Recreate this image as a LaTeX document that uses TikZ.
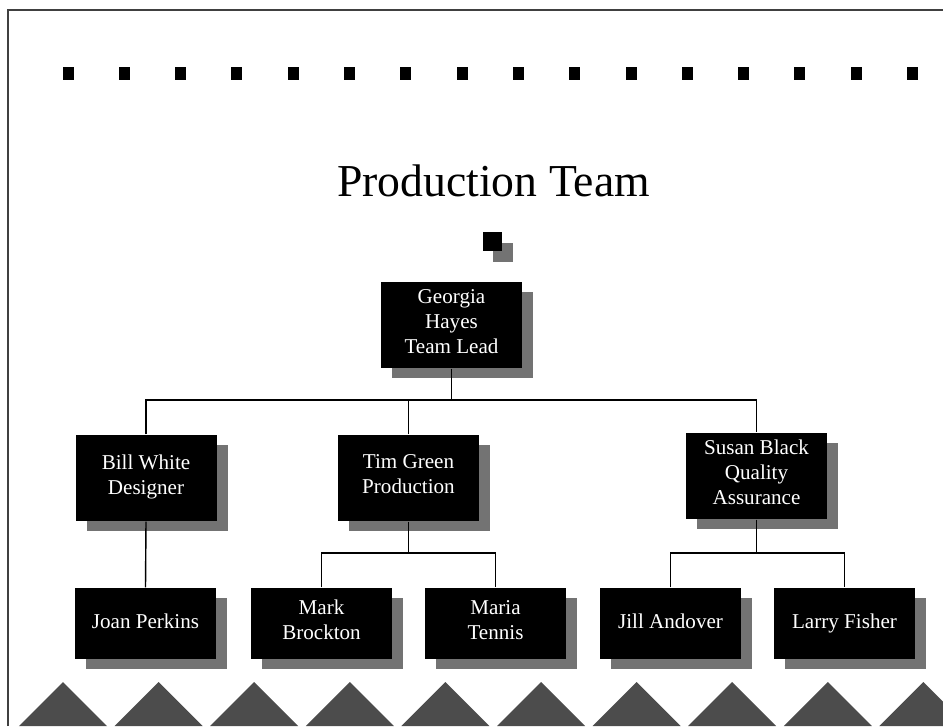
\documentclass[tikz,border=0pt]{standalone}
\usepackage{fontspec}
\setmainfont{Liberation Serif}
\usetikzlibrary{shadows}

\begin{document}
\begin{tikzpicture}[line width=0.8pt, every node/.style={font=\fontsize{12}{14.2}\selectfont}]
			\tikzstyle{member} = [fill=black, text=white, align=center, inner sep=0pt,
				minimum width=2.82cm, minimum height=1.72cm,
				execute at begin node=\strut, execute at end node=\strut,
				drop shadow={shadow xshift=0.22cm, shadow yshift=-0.2cm, fill=black!55, opacity=1}]
			\tikzstyle{staff} = [member, minimum height=1.42cm]
			\tikzstyle{link} = [draw=black, line width=0.8pt]
			
			\useasboundingbox (0,0) rectangle (18.86,14.52);
			
			% frame and the row of dots
			\draw [black!75, line width=1.1pt] (0.16,0) -- (0.16,14.32) -- (18.86,14.32);
			\foreach \i in {0,...,15}
				\fill (1.36+1.126*\i-0.11,12.91) rectangle ++(0.22,0.27);
			
			\node [font=\fontsize{26}{30}\selectfont, anchor=base] (title) at (9.87,10.58) {Production Team};
			\fill [black!55] (9.86,9.28) rectangle (10.26,9.66);
			\fill (9.66,9.5) rectangle (10.04,9.88);
			
			\node [member] (georgia) at (9.03,8.02) {Georgia\\Hayes\\Team Lead};
			
			\node [member] (bill) at (2.92,4.96) {Bill White\\Designer};
			\node [member] (tim) at (8.17,4.96) {Tim Green\\Production};
			\node [member] (susan) at (15.13,5.0) {Susan Black\\Quality\\Assurance};
			
			\node [staff] (joan) at (2.91,2.05) {Joan Perkins};
			\node [staff] (mark) at (6.43,2.05) {Mark\\Brockton};
			\node [staff] (maria) at (9.91,2.05) {Maria\\Tennis};
			\node [staff] (jill) at (13.41,2.05) {Jill Andover};
			\node [staff] (larry) at (16.89,2.05) {Larry Fisher};
			
			\coordinate (topbus) at (9.03,6.52);
			\coordinate (timbus) at (8.17,3.46);
			\coordinate (susanbus) at (15.13,3.46);
			
			\draw [link] (georgia.south) -- (topbus);
			\draw [link] (bill.north) |- (topbus) -| (susan.north);
			\draw [link] (tim.north) -- (tim.north |- topbus);
			\draw [link] (bill.south) -- (joan.north);
			\draw [link] (tim.south) -- (timbus);
			\draw [link] (mark.north) |- (timbus) -| (maria.north);
			\draw [link] (susan.south) -- (susanbus);
			\draw [link] (jill.north) |- (susanbus) -| (larry.north);
			
			% mountains along the bottom edge
			\begin{scope}
				\clip (0,0) rectangle (18.86,14.52);
				\foreach \i in {0,...,9}
					\fill [black!70] (1.26+1.912*\i-0.88,0) -- (1.26+1.912*\i,0.88) -- (1.26+1.912*\i+0.88,0) -- cycle;
			\end{scope}
			
\end{tikzpicture}
\end{document}
